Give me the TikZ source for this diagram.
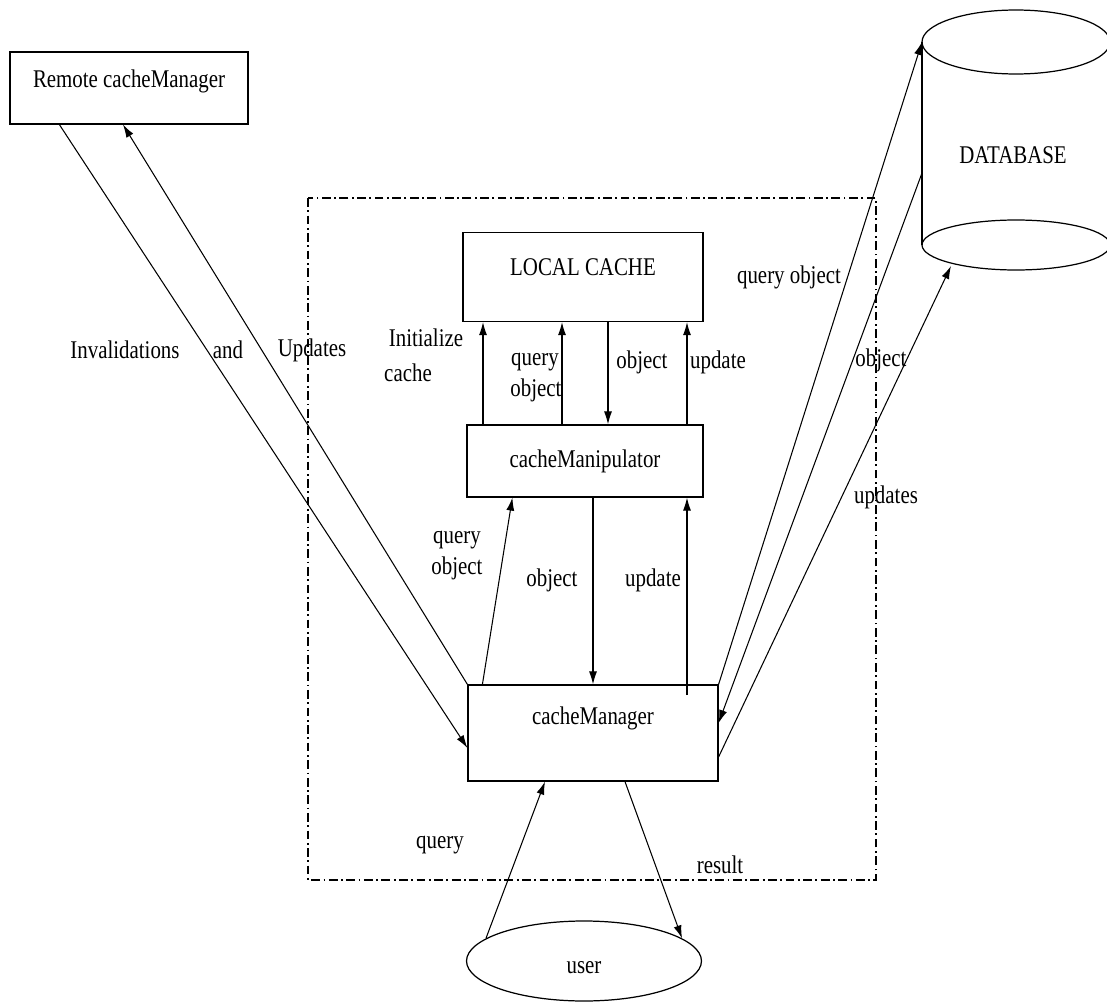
\documentclass[tikz,border=0pt]{standalone}
\usepackage{fontspec}
\setmainfont{Liberation Serif}[FakeStretch=0.82]
\usetikzlibrary{arrows.meta,shapes.geometric}
\tikzset{
  blk/.style={draw, line width=0.7pt, inner sep=0pt},
  lbl/.style={inner sep=0pt},
  flow/.style={line width=0.6pt, -{Latex[length=2.6mm,width=1.6mm]}},
  bound/.style={line width=0.6pt, dash pattern=on 5pt off 2pt on 1pt off 2pt},
}

\begin{document}
\begin{tikzpicture}[x=0.02cm,y=-0.02cm,font=\fontsize{14.5}{16}\selectfont]
\useasboundingbox (0,0) rectangle (1107,1004);
\draw[bound] (308,198) rectangle (876,880);
\node[blk, minimum width=4.76cm, minimum height=1.44cm, text depth=0.36cm] (remote) at (129,88) {Remote cacheManager};
\node[blk, minimum width=4.8cm, minimum height=1.78cm, text depth=0.4cm] (local) at (583,277) {LOCAL CACHE};
\node[blk, minimum width=4.72cm, minimum height=1.44cm] (manip) at (585,461) {cacheManipulator};
\node[blk, minimum width=5cm, minimum height=1.92cm, text depth=0.7cm] (manager) at (593,733) {cacheManager};
\node[blk, ellipse, minimum width=4.7cm, minimum height=1.6cm, text height=0.5cm] (user) at (584,961) {user};
% database
\draw[blk] (922,42) -- (922,245) (1110,42) -- (1110,245);
\draw[blk] (1016,42) ellipse (1.88cm and 0.64cm);
\draw[blk] (1016,245) ellipse (1.88cm and 0.5cm);
\node[lbl] (db) at (1013,155) {DATABASE};
\coordinate (dbtop) at (922,42);
\coordinate (dbside) at (922,173);
\coordinate (dbbot) at (951,266);
\coordinate (u1) at (687,695);

\draw[flow] ([xshift=1cm]remote.south west) -- ([yshift=-0.3cm]manager.west);
\draw[flow] (manager.north west) -- ([xshift=-0.12cm]remote.south);
\foreach \x in {483,562,687}
  \draw[flow] (\x,0 |- manip.north) -- (\x,0 |- local.south);
\draw[flow] (608,0 |- local.south) -- (608,0 |- manip.north);
\draw[flow] ([xshift=0.3cm]manager.north west) -- ([xshift=0.92cm]manip.south west);
\draw[flow] (manip.south -| manager.north) -- (manager.north);
\draw[flow] (u1) -- (u1 |- manip.south);
\draw[flow] (manager.north east) -- (dbtop);
\draw[flow] (dbside) -- ([yshift=0.2cm]manager.east);
\draw[flow] ([yshift=-0.48cm]manager.east) -- (dbbot);
\draw[flow] (user.167) -- ([xshift=-0.96cm]manager.south);
\draw[flow] ([xshift=0.64cm]manager.south) -- (user.13);

\node[lbl] (l1) at (125,350) {Invalidations};
\node[lbl] (l2) at (228,350) {and};
\node[lbl] (l3) at (312,350) {Updates};
\node[lbl] (l4) at (426,338) {Initialize};
\node[lbl] (l5) at (408,373) {cache};
\node[lbl] (l6) at (535,362) {query};
\node[lbl] (l7) at (536,390) {object};
\node[lbl] (l8) at (642,362) {object};
\node[lbl] (l9) at (718,362) {update};
\node[lbl] (l10) at (789,277) {query object};
\node[lbl] (l11) at (881,360) {object};
\node[lbl] (l12) at (886,497) {updates};
\node[lbl] (l13) at (457,540) {query};
\node[lbl] (l14) at (457,568) {object};
\node[lbl] (l15) at (552,580) {object};
\node[lbl] (l16) at (653,580) {update};
\node[lbl] (l17) at (440,845) {query};
\node[lbl] (l18) at (720,865) {result};
\end{tikzpicture}
\end{document}
